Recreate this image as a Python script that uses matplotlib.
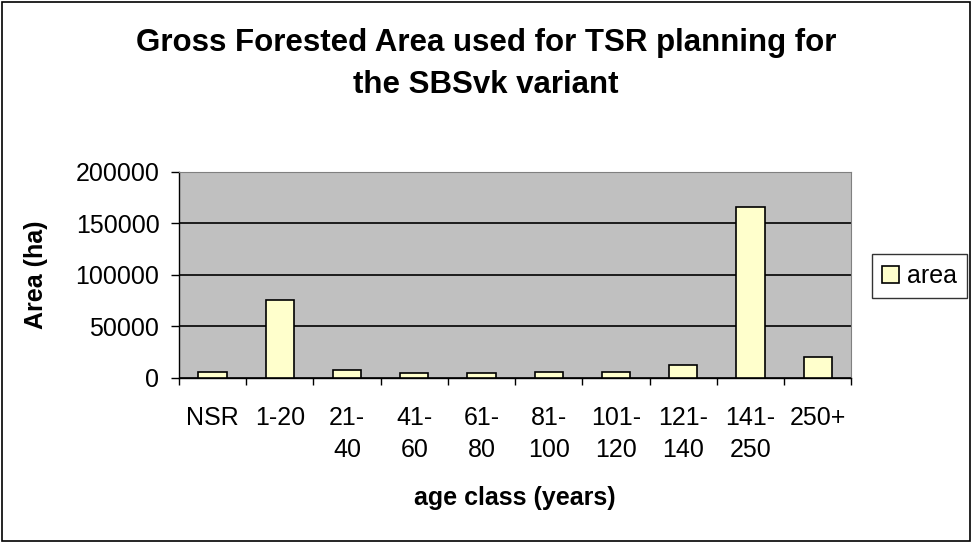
import matplotlib
matplotlib.use("Agg")
import matplotlib.pyplot as plt
import numpy as np

categories = ["NSR", "1-20", "21-\n40", "41-\n60", "61-\n80", "81-\n100", "101-\n120", "121-\n140", "141-\n250", "250+"]
area = [6000, 76000, 7500, 4500, 4500, 6000, 6000, 12500, 166000, 20000]
y_ticks = [0, 50000, 100000, 150000, 200000]

plt.rcParams['font.family'] = ['Liberation Sans', 'DejaVu Sans']

fig = plt.figure(figsize=(9.72, 5.42), dpi=100)
ax = fig.add_axes([0.184, 0.3026, 0.692, 0.3801])
ax.set_facecolor("#C0C0C0")

x = np.arange(len(categories))
bars = ax.bar(x, area, width=0.42, color="#FFFFCC", edgecolor="black", linewidth=1.2, label="area", zorder=3)

ax.set_xlim(-0.5, len(categories) - 0.5)
ax.set_ylim(0, 200000)
ax.set_yticks(y_ticks)
ax.set_yticklabels([str(v) for v in y_ticks], fontsize=18)
ax.yaxis.grid(True, color="black", linewidth=1.2, zorder=1)
ax.set_axisbelow(True)

# category labels centred, tick marks at category boundaries
ax.set_xticks(x)
ax.set_xticklabels(categories, fontsize=18, va="top", linespacing=1.45)
ax.tick_params(axis="x", which="major", length=0, pad=20)
ax.set_xticks(np.arange(-0.5, len(categories)), minor=True)
ax.tick_params(axis="x", which="minor", length=5, width=1, direction="out")
ax.tick_params(axis="y", length=6, width=1, direction="out", pad=8)

for side in ["top", "right"]:
    ax.spines[side].set_color("#808080")
for side in ["left", "bottom"]:
    ax.spines[side].set_color("black")
    ax.spines[side].set_linewidth(1)

ax.set_ylabel("Area (ha)", fontsize=18, fontweight="bold", labelpad=20)
ax.set_xlabel("age class (years)", fontsize=18, fontweight="bold", labelpad=17)

fig.suptitle("Gross Forested Area used for TSR planning for\nthe SBSvk variant",
             fontsize=22.5, fontweight="bold", y=0.948, linespacing=1.5)

leg = fig.legend(handles=[bars], labels=["area"], loc="center left",
                 bbox_to_anchor=(0.897, 0.49), fontsize=18, frameon=True,
                 fancybox=False, edgecolor="black", handlelength=0.7,
                 handleheight=0.7, handletextpad=0.3, borderpad=0.4,
                 borderaxespad=0)
leg.get_frame().set_linewidth(1)

# outer chart border
fig.patches.append(plt.Rectangle((0.002, 0.002), 0.996, 0.994, transform=fig.transFigure,
                                 fill=False, edgecolor="black", linewidth=1.2))

fig.savefig("out.png", dpi=100)
